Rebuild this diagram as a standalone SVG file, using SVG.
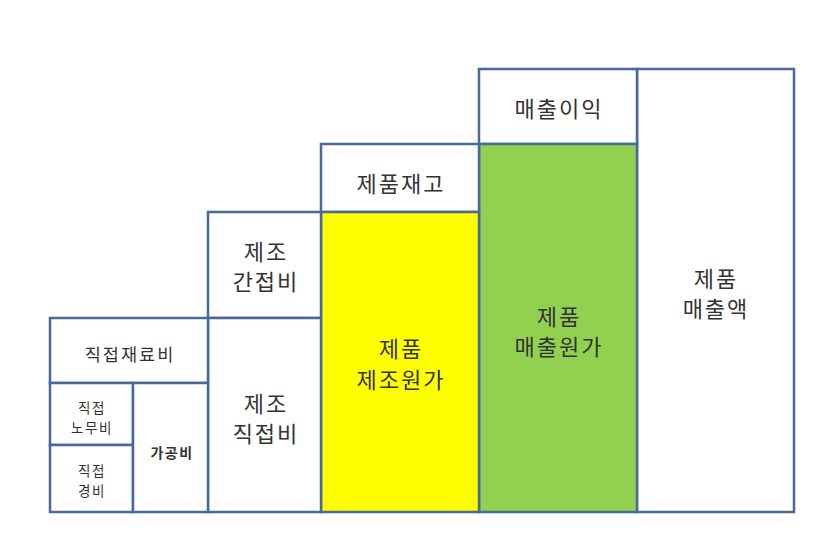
<svg xmlns="http://www.w3.org/2000/svg" width="835" height="533" viewBox="0 0 835 533">
<style>
.box{stroke:#48699A;stroke-width:2.5}
.w{fill:#fff}
.y{fill:#FFFF00}
.g{fill:#92D050}
text{font-family:"Noto Sans CJK KR","Noto Sans",sans-serif;fill:#333;text-anchor:middle;dominant-baseline:central}
.l{font-size:22px;letter-spacing:2px}
.m{font-size:17.5px;letter-spacing:2px}
.s{font-size:13.5px;letter-spacing:1.5px}
.b{font-size:14px;font-weight:bold;letter-spacing:1.5px}
</style>
<rect width="835" height="533" fill="#fff"/>
<g id="sales-revenue"><rect class="box w" x="637" y="69" width="157" height="443"/><text class="l" x="716" y="277">제품</text><text class="l" x="716" y="307">매출액</text></g>
<g id="sales-profit"><rect class="box w" x="479" y="69" width="158" height="75"/><text class="l" x="559" y="107">매출이익</text></g>
<g id="cogs"><rect class="box g" x="479" y="144" width="158" height="368"/><text class="l" x="559" y="315">제품</text><text class="l" x="559" y="345">매출원가</text></g>
<g id="inventory"><rect class="box w" x="321" y="144" width="158" height="68"/><text class="l" x="401" y="182">제품재고</text></g>
<g id="mfg-cost"><rect class="box y" x="321" y="212" width="158" height="300"/><text class="l" x="401" y="347">제품</text><text class="l" x="401" y="378">제조원가</text></g>
<g id="indirect"><rect class="box w" x="208" y="212" width="113" height="106"/><text class="l" x="266" y="250">제조</text><text class="l" x="266" y="280">간접비</text></g>
<g id="direct"><rect class="box w" x="208" y="318" width="113" height="194"/><text class="l" x="266" y="402">제조</text><text class="l" x="266" y="432">직접비</text></g>
<g id="material"><rect class="box w" x="50" y="318" width="158" height="65"/><text class="m" x="130" y="353">직접재료비</text></g>
<g id="labor"><rect class="box w" x="50" y="383" width="83" height="62"/><text class="s" x="92" y="407">직접</text><text class="s" x="92" y="427">노무비</text></g>
<g id="expense"><rect class="box w" x="50" y="445" width="83" height="67"/><text class="s" x="92" y="470">직접</text><text class="s" x="92" y="490">경비</text></g>
<g id="conversion"><rect class="box w" x="133" y="383" width="75" height="129"/><text class="b" x="172" y="452">가공비</text></g>
<g id="connectors"></g>
</svg>
